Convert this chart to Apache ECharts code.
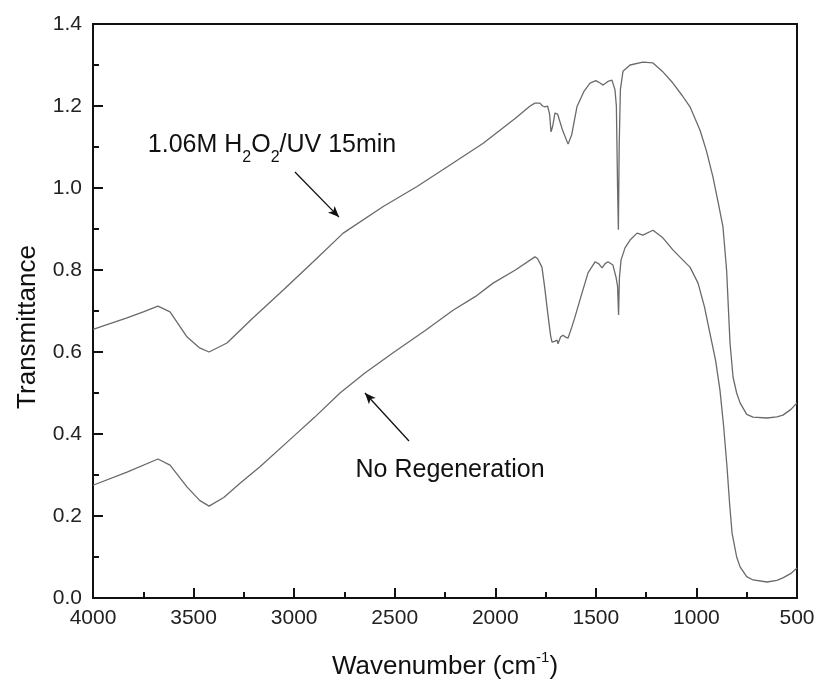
<!DOCTYPE html>
<html lang="en">
<head>
    <meta charset="UTF-8">
    <script src="https://cdn.jsdelivr.net/npm/echarts@6/dist/echarts.min.js"></script>
    <title>FTIR Transmittance</title>
    <style>
        html, body { margin: 0; padding: 0; background: #fff; }
        #main { width: 817px; height: 683px; }
    </style>
</head>
<body>
    <div id="main"></div>
    <script>
        // wavenumber (cm-1) / transmittance
        var regenWave = [4000, 3831, 3750, 3677, 3617, 3533, 3470, 3423, 3334, 3205, 3054, 2905, 2756, 2557, 2391, 2225, 2060, 1900, 1827, 1803, 1778, 1765, 1753, 1740, 1730, 1723, 1715, 1703, 1690, 1665, 1638, 1620, 1594, 1560, 1529, 1500, 1479, 1464, 1440, 1420, 1405, 1398, 1392, 1388, 1384, 1378, 1365, 1330, 1266, 1216, 1170, 1117, 1070, 1032, 982, 950, 918, 890, 868, 850, 833, 818, 800, 783, 750, 719, 649, 600, 570, 530, 500];
        var regenT = [0.655, 0.683, 0.698, 0.712, 0.698, 0.637, 0.610, 0.600, 0.622, 0.683, 0.751, 0.820, 0.890, 0.955, 1.003, 1.056, 1.109, 1.170, 1.200, 1.207, 1.207, 1.200, 1.198, 1.200, 1.180, 1.137, 1.150, 1.183, 1.180, 1.140, 1.107, 1.130, 1.198, 1.235, 1.256, 1.262, 1.256, 1.251, 1.260, 1.263, 1.240, 1.200, 1.000, 0.898, 1.100, 1.240, 1.285, 1.300, 1.307, 1.305, 1.285, 1.256, 1.225, 1.198, 1.141, 1.090, 1.027, 0.960, 0.905, 0.800, 0.622, 0.539, 0.500, 0.476, 0.448, 0.441, 0.439, 0.442, 0.446, 0.460, 0.476];

        var noRegenWave = [4000, 3831, 3677, 3617, 3533, 3470, 3423, 3350, 3269, 3170, 3006, 2900, 2772, 2650, 2508, 2350, 2210, 2100, 2011, 1900, 1803, 1790, 1768, 1755, 1738, 1725, 1718, 1705, 1693, 1688, 1675, 1663, 1650, 1638, 1620, 1604, 1579, 1539, 1504, 1485, 1469, 1455, 1440, 1415, 1400, 1392, 1387, 1383, 1375, 1355, 1330, 1295, 1266, 1216, 1170, 1117, 1067, 1032, 992, 960, 933, 905, 883, 865, 848, 835, 823, 800, 783, 750, 719, 649, 600, 570, 530, 500];
        var noRegenT = [0.275, 0.307, 0.339, 0.324, 0.271, 0.238, 0.224, 0.245, 0.280, 0.320, 0.393, 0.440, 0.500, 0.548, 0.598, 0.652, 0.702, 0.735, 0.768, 0.800, 0.832, 0.828, 0.807, 0.760, 0.690, 0.640, 0.624, 0.626, 0.629, 0.620, 0.637, 0.641, 0.636, 0.634, 0.660, 0.685, 0.727, 0.793, 0.820, 0.815, 0.805, 0.815, 0.820, 0.812, 0.783, 0.760, 0.690, 0.780, 0.824, 0.854, 0.873, 0.890, 0.885, 0.897, 0.880, 0.849, 0.824, 0.807, 0.768, 0.710, 0.646, 0.580, 0.507, 0.420, 0.320, 0.230, 0.159, 0.100, 0.076, 0.052, 0.044, 0.039, 0.043, 0.049, 0.060, 0.073];

        // annotation anchors in data space
        var regenArrow = [[2996, 1.039], [2777, 0.929]];
        var noRegenArrow = [[2429, 0.383], [2648, 0.500]];
        var regenLabelAt = [3110, 1.104];
        var noRegenLabelAt = [2225, 0.312];

        function pairs(xs, ys) {
            return xs.map(function (x, i) { return [x, ys[i]]; });
        }

        var font = 'Liberation Sans, Arial, sans-serif';
        var chart = echarts.init(document.getElementById('main'));

        var option = {
            animation: false,
            grid: {
                left: 93, right: 20, top: 24, bottom: 85,
                outerBoundsMode: 'none',
                show: true, borderColor: '#111', borderWidth: 2, backgroundColor: 'transparent'
            },
            xAxis: {
                type: 'value',
                inverse: true,
                min: 500,
                max: 4000,
                interval: 500,
                name: '{t|Wavenumber (cm}{s|-1}{t|)}',
                nameLocation: 'middle',
                nameGap: 52,
                nameTextStyle: {
                    rich: {
                        t: { fontFamily: font, fontSize: 26, lineHeight: 34, color: '#111' },
                        s: { fontFamily: font, fontSize: 15, lineHeight: 15, verticalAlign: 'top', color: '#111' }
                    }
                },
                axisLine: { lineStyle: { color: '#111', width: 2 } },
                axisTick: { inside: true, length: 10, lineStyle: { color: '#111', width: 2 } },
                minorTick: { show: true, splitNumber: 2, length: 6, lineStyle: { color: '#111', width: 2 } },
                splitLine: { show: false },
                axisLabel: {
                    fontFamily: font, fontSize: 21, color: '#222', margin: 10,
                    formatter: function (v) { return String(v); }
                }
            },
            yAxis: {
                type: 'value',
                min: 0,
                max: 1.4,
                interval: 0.2,
                name: 'Transmittance',
                nameLocation: 'middle',
                nameGap: 52,
                nameTextStyle: { fontFamily: font, fontSize: 26, color: '#111', padding: [0, 0, 0, -32] },
                axisLine: { lineStyle: { color: '#111', width: 2 } },
                axisTick: { inside: true, length: 10, lineStyle: { color: '#111', width: 2 } },
                minorTick: { show: true, splitNumber: 2, length: 6, lineStyle: { color: '#111', width: 2 } },
                splitLine: { show: false },
                axisLabel: {
                    fontFamily: font, fontSize: 21, color: '#222', margin: 11,
                    formatter: function (v) { return v.toFixed(1); }
                }
            },
            series: [
                {
                    name: '1.06M H2O2/UV 15min',
                    type: 'line',
                    data: pairs(regenWave, regenT),
                    showSymbol: false,
                    lineStyle: { color: '#6a6a6a', width: 1.3 },
                    markLine: {
                        silent: true,
                        symbol: ['none', 'arrow'],
                        symbolSize: [7, 11],
                        label: { show: false },
                        lineStyle: { color: '#111', width: 1.3, type: 'solid' },
                        data: [[{ coord: regenArrow[0] }, { coord: regenArrow[1] }]]
                    },
                    markPoint: {
                        silent: true,
                        symbolSize: 0,
                        data: [{
                            coord: regenLabelAt,
                            label: {
                                show: true,
                                position: 'inside',
                                formatter: '{t|1.06M H}{s|2}{t|O}{s|2}{t|/UV 15min}',
                                rich: {
                                    t: { fontFamily: font, fontSize: 25, lineHeight: 40, color: '#111' },
                                    s: { fontFamily: font, fontSize: 16, lineHeight: 16, verticalAlign: 'bottom', color: '#111' }
                                }
                            }
                        }]
                    }
                },
                {
                    name: 'No Regeneration',
                    type: 'line',
                    data: pairs(noRegenWave, noRegenT),
                    showSymbol: false,
                    lineStyle: { color: '#6a6a6a', width: 1.3 },
                    markLine: {
                        silent: true,
                        symbol: ['none', 'arrow'],
                        symbolSize: [7, 11],
                        label: { show: false },
                        lineStyle: { color: '#111', width: 1.3, type: 'solid' },
                        data: [[{ coord: noRegenArrow[0] }, { coord: noRegenArrow[1] }]]
                    },
                    markPoint: {
                        silent: true,
                        symbolSize: 0,
                        data: [{
                            coord: noRegenLabelAt,
                            label: {
                                show: true,
                                position: 'inside',
                                formatter: 'No Regeneration',
                                fontFamily: font, fontSize: 25, color: '#111'
                            }
                        }]
                    }
                }
            ]
        };

        chart.setOption(option);
    </script>
</body>
</html>
